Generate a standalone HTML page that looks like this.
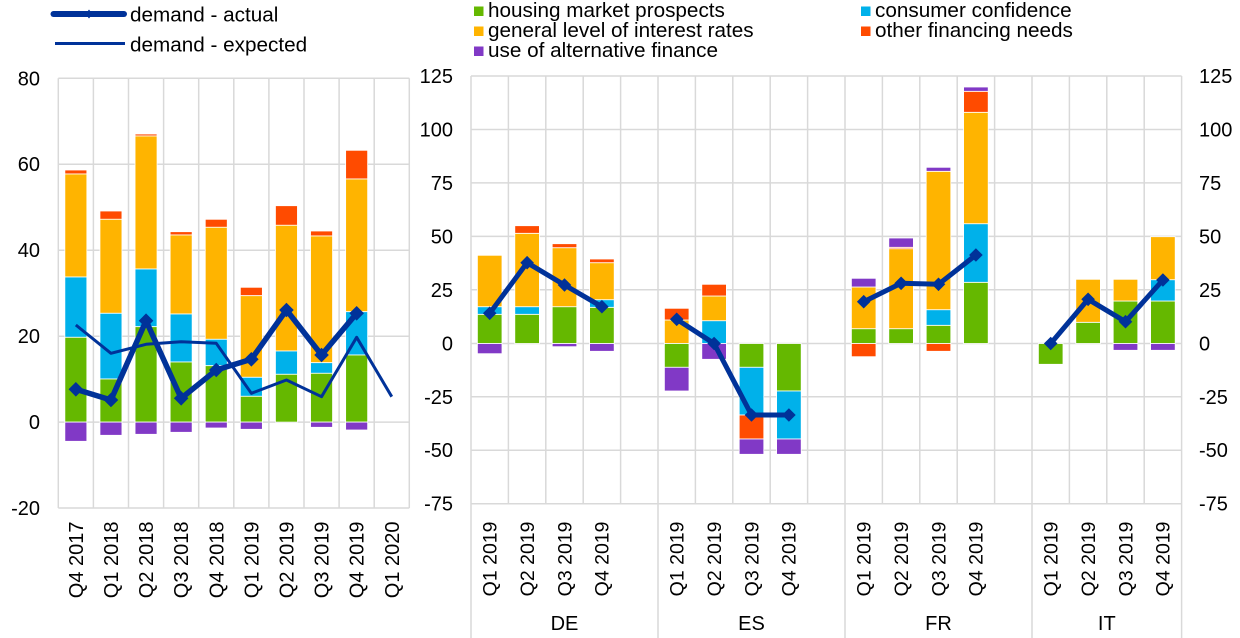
<!DOCTYPE html>
<html><head><meta charset="utf-8"><style>
html,body{margin:0;padding:0;background:#fff;}
svg{display:block;font-family:"Liberation Sans",Arial,sans-serif;}
.g{fill:#65B800}.c{fill:#00B1EA}.o{fill:#FFB400}.r{fill:#FF4B00}.p{fill:#8139C6}
.bars rect{stroke:#fff;stroke-width:0.8}
.grid line{stroke:#d9d9d9;stroke-width:1.5}
text{fill:#000;font-size:20px}
.lg{font-size:20.7px}
.rx{font-size:19.5px}
</style></head><body>
<svg width="1240" height="638" viewBox="0 0 1240 638" xmlns="http://www.w3.org/2000/svg">
<defs><path id="dm" d="M0,-7.3 L7.3,0 L0,7.3 L-7.3,0Z" fill="#003299"/>
<path id="dm2" d="M0,-6.8 L6.8,0 L0,6.8 L-6.8,0Z" fill="#003299"/></defs>

<!-- LEFT LEGEND -->
<line x1="53.5" y1="14" x2="124" y2="14" stroke="#003299" stroke-width="6" stroke-linecap="round"/>
<path d="M89,9.5 L92.5,14 L89,18.5 L85.5,14Z" fill="#003299"/>
<line x1="55" y1="43.5" x2="125" y2="43.5" stroke="#003299" stroke-width="3"/>
<text class="lg" x="130" y="21.5">demand - actual</text>
<text class="lg" x="130" y="51.5">demand - expected</text>

<!-- RIGHT LEGEND -->
<rect x="474" y="6.5" width="9.5" height="9.5" class="g"/><text class="lg" x="488" y="17">housing market prospects</text>
<rect x="474" y="26.5" width="9.5" height="9.5" class="o"/><text class="lg" x="488" y="37">general level of interest rates</text>
<rect x="474" y="46.5" width="9.5" height="9.5" class="p"/><text class="lg" x="488" y="57">use of alternative finance</text>
<rect x="861" y="6.5" width="9.5" height="9.5" class="c"/><text class="lg" x="875" y="17">consumer confidence</text>
<rect x="861" y="26.5" width="9.5" height="9.5" class="r"/><text class="lg" x="875" y="37">other financing needs</text>

<!-- LEFT CHART GRID -->
<g class="grid">
<line x1="58.3" y1="78.3" x2="409.3" y2="78.3"/>
<line x1="58.3" y1="164.2" x2="409.3" y2="164.2"/>
<line x1="58.3" y1="250.2" x2="409.3" y2="250.2"/>
<line x1="58.3" y1="336.2" x2="409.3" y2="336.2"/>
<line x1="58.3" y1="422.1" x2="409.3" y2="422.1"/>
<line x1="58.3" y1="508" x2="409.3" y2="508"/>
<line x1="58.3" y1="78.3" x2="58.3" y2="508"/>
<line x1="93.4" y1="78.3" x2="93.4" y2="508"/>
<line x1="128.5" y1="78.3" x2="128.5" y2="508"/>
<line x1="163.6" y1="78.3" x2="163.6" y2="508"/>
<line x1="198.7" y1="78.3" x2="198.7" y2="508"/>
<line x1="233.8" y1="78.3" x2="233.8" y2="508"/>
<line x1="268.9" y1="78.3" x2="268.9" y2="508"/>
<line x1="304" y1="78.3" x2="304" y2="508"/>
<line x1="339.1" y1="78.3" x2="339.1" y2="508"/>
<line x1="374.2" y1="78.3" x2="374.2" y2="508"/>
<line x1="409.3" y1="78.3" x2="409.3" y2="508"/>
</g>
<g text-anchor="end">
<text x="40" y="85.3">80</text>
<text x="40" y="171.2">60</text>
<text x="40" y="257.2">40</text>
<text x="40" y="343.2">20</text>
<text x="40" y="429.1">0</text>
<text x="40" y="515">-20</text>
</g>

<!-- LEFT BARS -->
<g class="bars">
<rect x="64.85" y="170" width="22" height="4" class="r"/><rect x="64.85" y="174" width="22" height="103" class="o"/><rect x="64.85" y="277" width="22" height="60.3" class="c"/><rect x="64.85" y="337.3" width="22" height="84.8" class="g"/><rect x="64.85" y="422.1" width="22" height="19.2" class="p"/>
<rect x="99.95" y="211" width="22" height="8.3" class="r"/><rect x="99.95" y="219.3" width="22" height="94" class="o"/><rect x="99.95" y="313.3" width="22" height="65.7" class="c"/><rect x="99.95" y="379" width="22" height="43.1" class="g"/><rect x="99.95" y="422.1" width="22" height="13.2" class="p"/>
<rect x="135.05" y="134" width="22" height="2" class="r"/><rect x="135.05" y="136" width="22" height="133" class="o"/><rect x="135.05" y="269" width="22" height="57.7" class="c"/><rect x="135.05" y="326.7" width="22" height="95.4" class="g"/><rect x="135.05" y="422.1" width="22" height="12.2" class="p"/>
<rect x="170.15" y="231.7" width="22" height="3.3" class="r"/><rect x="170.15" y="235" width="22" height="79" class="o"/><rect x="170.15" y="314" width="22" height="48" class="c"/><rect x="170.15" y="362" width="22" height="60.1" class="g"/><rect x="170.15" y="422.1" width="22" height="10.2" class="p"/>
<rect x="205.25" y="219.3" width="22" height="8" class="r"/><rect x="205.25" y="227.3" width="22" height="112" class="o"/><rect x="205.25" y="339.3" width="22" height="26.4" class="c"/><rect x="205.25" y="365.7" width="22" height="56.4" class="g"/><rect x="205.25" y="422.1" width="22" height="5.9" class="p"/>
<rect x="240.35" y="287.3" width="22" height="8.4" class="r"/><rect x="240.35" y="295.7" width="22" height="81.6" class="o"/><rect x="240.35" y="377.3" width="22" height="19" class="c"/><rect x="240.35" y="396.3" width="22" height="25.8" class="g"/><rect x="240.35" y="422.1" width="22" height="7.2" class="p"/>
<rect x="275.45" y="205.7" width="22" height="19.6" class="r"/><rect x="275.45" y="225.3" width="22" height="125.7" class="o"/><rect x="275.45" y="351" width="22" height="23.3" class="c"/><rect x="275.45" y="374.3" width="22" height="47.8" class="g"/>
<rect x="310.55" y="231" width="22" height="5" class="r"/><rect x="310.55" y="236" width="22" height="126.7" class="o"/><rect x="310.55" y="362.7" width="22" height="10.6" class="c"/><rect x="310.55" y="373.3" width="22" height="48.8" class="g"/><rect x="310.55" y="422.1" width="22" height="5.2" class="p"/>
<rect x="345.65" y="150.3" width="22" height="28.7" class="r"/><rect x="345.65" y="179" width="22" height="132.7" class="o"/><rect x="345.65" y="311.7" width="22" height="43.3" class="c"/><rect x="345.65" y="355" width="22" height="67.1" class="g"/><rect x="345.65" y="422.1" width="22" height="7.9" class="p"/>
</g>

<!-- LEFT LINES -->
<polyline points="75.85,325 110.95,353.3 146.05,344.3 181.15,341.7 216.25,343.3 251.35,393.3 286.45,380 321.55,396.7 356.65,337.3 391.75,396.7" fill="none" stroke="#003299" stroke-width="3" stroke-linejoin="round"/>
<polyline points="75.85,389.3 110.95,400 146.05,320.7 181.15,398.3 216.25,370 251.35,359.3 286.45,310 321.55,355 356.65,313.3" fill="none" stroke="#003299" stroke-width="5.5" stroke-linejoin="round"/>
<use href="#dm" x="75.85" y="389.3"/><use href="#dm" x="110.95" y="400"/><use href="#dm" x="146.05" y="320.7"/><use href="#dm" x="181.15" y="398.3"/><use href="#dm" x="216.25" y="370"/><use href="#dm" x="251.35" y="359.3"/><use href="#dm" x="286.45" y="310"/><use href="#dm" x="321.55" y="355"/><use href="#dm" x="356.65" y="313.3"/>

<!-- LEFT X LABELS -->
<g text-anchor="end">
<text transform="translate(75.85,521.5) rotate(-90)" dy="0.35em">Q4 2017</text>
<text transform="translate(110.95,521.5) rotate(-90)" dy="0.35em">Q1 2018</text>
<text transform="translate(146.05,521.5) rotate(-90)" dy="0.35em">Q2 2018</text>
<text transform="translate(181.15,521.5) rotate(-90)" dy="0.35em">Q3 2018</text>
<text transform="translate(216.25,521.5) rotate(-90)" dy="0.35em">Q4 2018</text>
<text transform="translate(251.35,521.5) rotate(-90)" dy="0.35em">Q1 2019</text>
<text transform="translate(286.45,521.5) rotate(-90)" dy="0.35em">Q2 2019</text>
<text transform="translate(321.55,521.5) rotate(-90)" dy="0.35em">Q3 2019</text>
<text transform="translate(356.65,521.5) rotate(-90)" dy="0.35em">Q4 2019</text>
<text transform="translate(391.75,521.5) rotate(-90)" dy="0.35em">Q1 2020</text>
</g>

<!-- RIGHT CHART GRID -->
<g class="grid">
<line x1="471" y1="76" x2="1181.6" y2="76"/>
<line x1="471" y1="129.45" x2="1181.6" y2="129.45"/>
<line x1="471" y1="182.9" x2="1181.6" y2="182.9"/>
<line x1="471" y1="236.4" x2="1181.6" y2="236.4"/>
<line x1="471" y1="289.8" x2="1181.6" y2="289.8"/>
<line x1="471" y1="343.5" x2="1181.6" y2="343.5"/>
<line x1="471" y1="396.8" x2="1181.6" y2="396.8"/>
<line x1="471" y1="450.2" x2="1181.6" y2="450.2"/>
<line x1="471" y1="503.7" x2="1181.6" y2="503.7"/>
<line x1="471" y1="76" x2="471" y2="638"/>
<line x1="508.4" y1="76" x2="508.4" y2="503.7"/>
<line x1="545.8" y1="76" x2="545.8" y2="503.7"/>
<line x1="583.2" y1="76" x2="583.2" y2="503.7"/>
<line x1="620.6" y1="76" x2="620.6" y2="503.7"/>
<line x1="658" y1="76" x2="658" y2="638"/>
<line x1="695.4" y1="76" x2="695.4" y2="503.7"/>
<line x1="732.8" y1="76" x2="732.8" y2="503.7"/>
<line x1="770.2" y1="76" x2="770.2" y2="503.7"/>
<line x1="807.6" y1="76" x2="807.6" y2="503.7"/>
<line x1="845" y1="76" x2="845" y2="638"/>
<line x1="882.4" y1="76" x2="882.4" y2="503.7"/>
<line x1="919.8" y1="76" x2="919.8" y2="503.7"/>
<line x1="957.2" y1="76" x2="957.2" y2="503.7"/>
<line x1="994.6" y1="76" x2="994.6" y2="503.7"/>
<line x1="1032" y1="76" x2="1032" y2="638"/>
<line x1="1069.4" y1="76" x2="1069.4" y2="503.7"/>
<line x1="1106.8" y1="76" x2="1106.8" y2="503.7"/>
<line x1="1144.2" y1="76" x2="1144.2" y2="503.7"/>
<line x1="1181.6" y1="76" x2="1181.6" y2="638"/>
</g>
<g text-anchor="end">
<text x="453" y="83">125</text>
<text x="453" y="136.45">100</text>
<text x="453" y="189.9">75</text>
<text x="453" y="243.4">50</text>
<text x="453" y="296.8">25</text>
<text x="453" y="350.5">0</text>
<text x="453" y="403.8">-25</text>
<text x="453" y="457.2">-50</text>
<text x="453" y="510.7">-75</text>
</g>
<g>
<text x="1199" y="83">125</text>
<text x="1199" y="136.45">100</text>
<text x="1199" y="189.9">75</text>
<text x="1199" y="243.4">50</text>
<text x="1199" y="296.8">25</text>
<text x="1199" y="350.5">0</text>
<text x="1199" y="403.8">-25</text>
<text x="1199" y="457.2">-50</text>
<text x="1199" y="510.7">-75</text>
</g>

<!-- RIGHT BARS -->
<g class="bars">
<!-- DE -->
<rect x="477.4" y="314.3" width="24.6" height="29.2" class="g"/><rect x="477.4" y="306.7" width="24.6" height="7.6" class="c"/><rect x="477.4" y="255.3" width="24.6" height="51.4" class="o"/><rect x="477.4" y="343.5" width="24.6" height="10.2" class="p"/>
<rect x="514.8" y="314.3" width="24.6" height="29.2" class="g"/><rect x="514.8" y="306.7" width="24.6" height="7.6" class="c"/><rect x="514.8" y="233.3" width="24.6" height="73.4" class="o"/><rect x="514.8" y="225.7" width="24.6" height="7.6" class="r"/>
<rect x="552.2" y="306.7" width="24.6" height="36.8" class="g"/><rect x="552.2" y="247.7" width="24.6" height="59" class="o"/><rect x="552.2" y="243.7" width="24.6" height="4" class="r"/><rect x="552.2" y="343.5" width="24.6" height="3.2" class="p"/>
<rect x="589.6" y="307.3" width="24.6" height="36.2" class="g"/><rect x="589.6" y="299.7" width="24.6" height="7.6" class="c"/><rect x="589.6" y="262.7" width="24.6" height="37" class="o"/><rect x="589.6" y="259" width="24.6" height="3.7" class="r"/><rect x="589.6" y="343.5" width="24.6" height="7.8" class="p"/>
<!-- ES -->
<rect x="664.4" y="320" width="24.6" height="23.5" class="o"/><rect x="664.4" y="308.3" width="24.6" height="11.7" class="r"/><rect x="664.4" y="343.5" width="24.6" height="23.8" class="g"/><rect x="664.4" y="367.3" width="24.6" height="23.7" class="p"/>
<rect x="701.8" y="320.7" width="24.6" height="22.8" class="c"/><rect x="701.8" y="296" width="24.6" height="24.7" class="o"/><rect x="701.8" y="284.3" width="24.6" height="11.7" class="r"/><rect x="701.8" y="343.5" width="24.6" height="15.8" class="p"/>
<rect x="739.2" y="343.5" width="24.6" height="23.8" class="g"/><rect x="739.2" y="367.3" width="24.6" height="47.7" class="c"/><rect x="739.2" y="415" width="24.6" height="24" class="r"/><rect x="739.2" y="439" width="24.6" height="15.3" class="p"/>
<rect x="776.6" y="343.5" width="24.6" height="47.5" class="g"/><rect x="776.6" y="391" width="24.6" height="48" class="c"/><rect x="776.6" y="439" width="24.6" height="15.3" class="p"/>
<!-- FR -->
<rect x="851.4" y="328.7" width="24.6" height="14.8" class="g"/><rect x="851.4" y="287" width="24.6" height="41.7" class="o"/><rect x="851.4" y="278.3" width="24.6" height="8.7" class="p"/><rect x="851.4" y="343.5" width="24.6" height="13.2" class="r"/>
<rect x="888.8" y="328.7" width="24.6" height="14.8" class="g"/><rect x="888.8" y="248.7" width="24.6" height="80" class="o"/><rect x="888.8" y="247.3" width="24.6" height="1.4" class="r"/><rect x="888.8" y="238" width="24.6" height="9.3" class="p"/>
<rect x="926.2" y="325.3" width="24.6" height="18.2" class="g"/><rect x="926.2" y="309.7" width="24.6" height="15.6" class="c"/><rect x="926.2" y="171.3" width="24.6" height="138.4" class="o"/><rect x="926.2" y="167.3" width="24.6" height="4" class="p"/><rect x="926.2" y="343.5" width="24.6" height="7.8" class="r"/>
<rect x="963.6" y="282.3" width="24.6" height="61.2" class="g"/><rect x="963.6" y="223.7" width="24.6" height="58.6" class="c"/><rect x="963.6" y="112.3" width="24.6" height="111.4" class="o"/><rect x="963.6" y="91.3" width="24.6" height="21" class="r"/><rect x="963.6" y="87" width="24.6" height="4.3" class="p"/>
<!-- IT -->
<rect x="1038.4" y="343.5" width="24.6" height="20.8" class="g"/>
<rect x="1075.8" y="322.3" width="24.6" height="21.2" class="g"/><rect x="1075.8" y="279.3" width="24.6" height="43" class="o"/>
<rect x="1113.2" y="301" width="24.6" height="42.5" class="g"/><rect x="1113.2" y="279.3" width="24.6" height="21.7" class="o"/><rect x="1113.2" y="343.5" width="24.6" height="6.8" class="p"/>
<rect x="1150.6" y="301" width="24.6" height="42.5" class="g"/><rect x="1150.6" y="279.7" width="24.6" height="21.3" class="c"/><rect x="1150.6" y="236.7" width="24.6" height="43" class="o"/><rect x="1150.6" y="343.5" width="24.6" height="6.8" class="p"/>
</g>

<!-- RIGHT LINES -->
<g fill="none" stroke="#003299" stroke-width="5" stroke-linejoin="round">
<polyline points="489.7,313.3 527.1,262.7 564.5,285 601.9,306.7"/>
<polyline points="676.7,319.3 714.1,343.5 751.5,415 788.9,415"/>
<polyline points="863.7,301.7 901.1,283.3 938.5,284.3 975.9,255"/>
<polyline points="1050.7,343.5 1088.1,299.3 1125.5,321.7 1162.9,280"/>
</g>
<use href="#dm2" x="489.7" y="313.3"/><use href="#dm2" x="527.1" y="262.7"/><use href="#dm2" x="564.5" y="285"/><use href="#dm2" x="601.9" y="306.7"/>
<use href="#dm2" x="676.7" y="319.3"/><use href="#dm2" x="714.1" y="343.5"/><use href="#dm2" x="751.5" y="415"/><use href="#dm2" x="788.9" y="415"/>
<use href="#dm2" x="863.7" y="301.7"/><use href="#dm2" x="901.1" y="283.3"/><use href="#dm2" x="938.5" y="284.3"/><use href="#dm2" x="975.9" y="255"/>
<use href="#dm2" x="1050.7" y="343.5"/><use href="#dm2" x="1088.1" y="299.3"/><use href="#dm2" x="1125.5" y="321.7"/><use href="#dm2" x="1162.9" y="280"/>

<!-- RIGHT X LABELS -->
<g text-anchor="end">
<text class="rx" transform="translate(489.7,521.5) rotate(-90)" dy="0.35em">Q1 2019</text>
<text class="rx" transform="translate(527.1,521.5) rotate(-90)" dy="0.35em">Q2 2019</text>
<text class="rx" transform="translate(564.5,521.5) rotate(-90)" dy="0.35em">Q3 2019</text>
<text class="rx" transform="translate(601.9,521.5) rotate(-90)" dy="0.35em">Q4 2019</text>
<text class="rx" transform="translate(676.7,521.5) rotate(-90)" dy="0.35em">Q1 2019</text>
<text class="rx" transform="translate(714.1,521.5) rotate(-90)" dy="0.35em">Q2 2019</text>
<text class="rx" transform="translate(751.5,521.5) rotate(-90)" dy="0.35em">Q3 2019</text>
<text class="rx" transform="translate(788.9,521.5) rotate(-90)" dy="0.35em">Q4 2019</text>
<text class="rx" transform="translate(863.7,521.5) rotate(-90)" dy="0.35em">Q1 2019</text>
<text class="rx" transform="translate(901.1,521.5) rotate(-90)" dy="0.35em">Q2 2019</text>
<text class="rx" transform="translate(938.5,521.5) rotate(-90)" dy="0.35em">Q3 2019</text>
<text class="rx" transform="translate(975.9,521.5) rotate(-90)" dy="0.35em">Q4 2019</text>
<text class="rx" transform="translate(1050.7,521.5) rotate(-90)" dy="0.35em">Q1 2019</text>
<text class="rx" transform="translate(1088.1,521.5) rotate(-90)" dy="0.35em">Q2 2019</text>
<text class="rx" transform="translate(1125.5,521.5) rotate(-90)" dy="0.35em">Q3 2019</text>
<text class="rx" transform="translate(1162.9,521.5) rotate(-90)" dy="0.35em">Q4 2019</text>
</g>
<g text-anchor="middle">
<text x="564.5" y="630">DE</text>
<text x="751.5" y="630">ES</text>
<text x="938.5" y="630">FR</text>
<text x="1106.8" y="630">IT</text>
</g>
</svg>
</body></html>
